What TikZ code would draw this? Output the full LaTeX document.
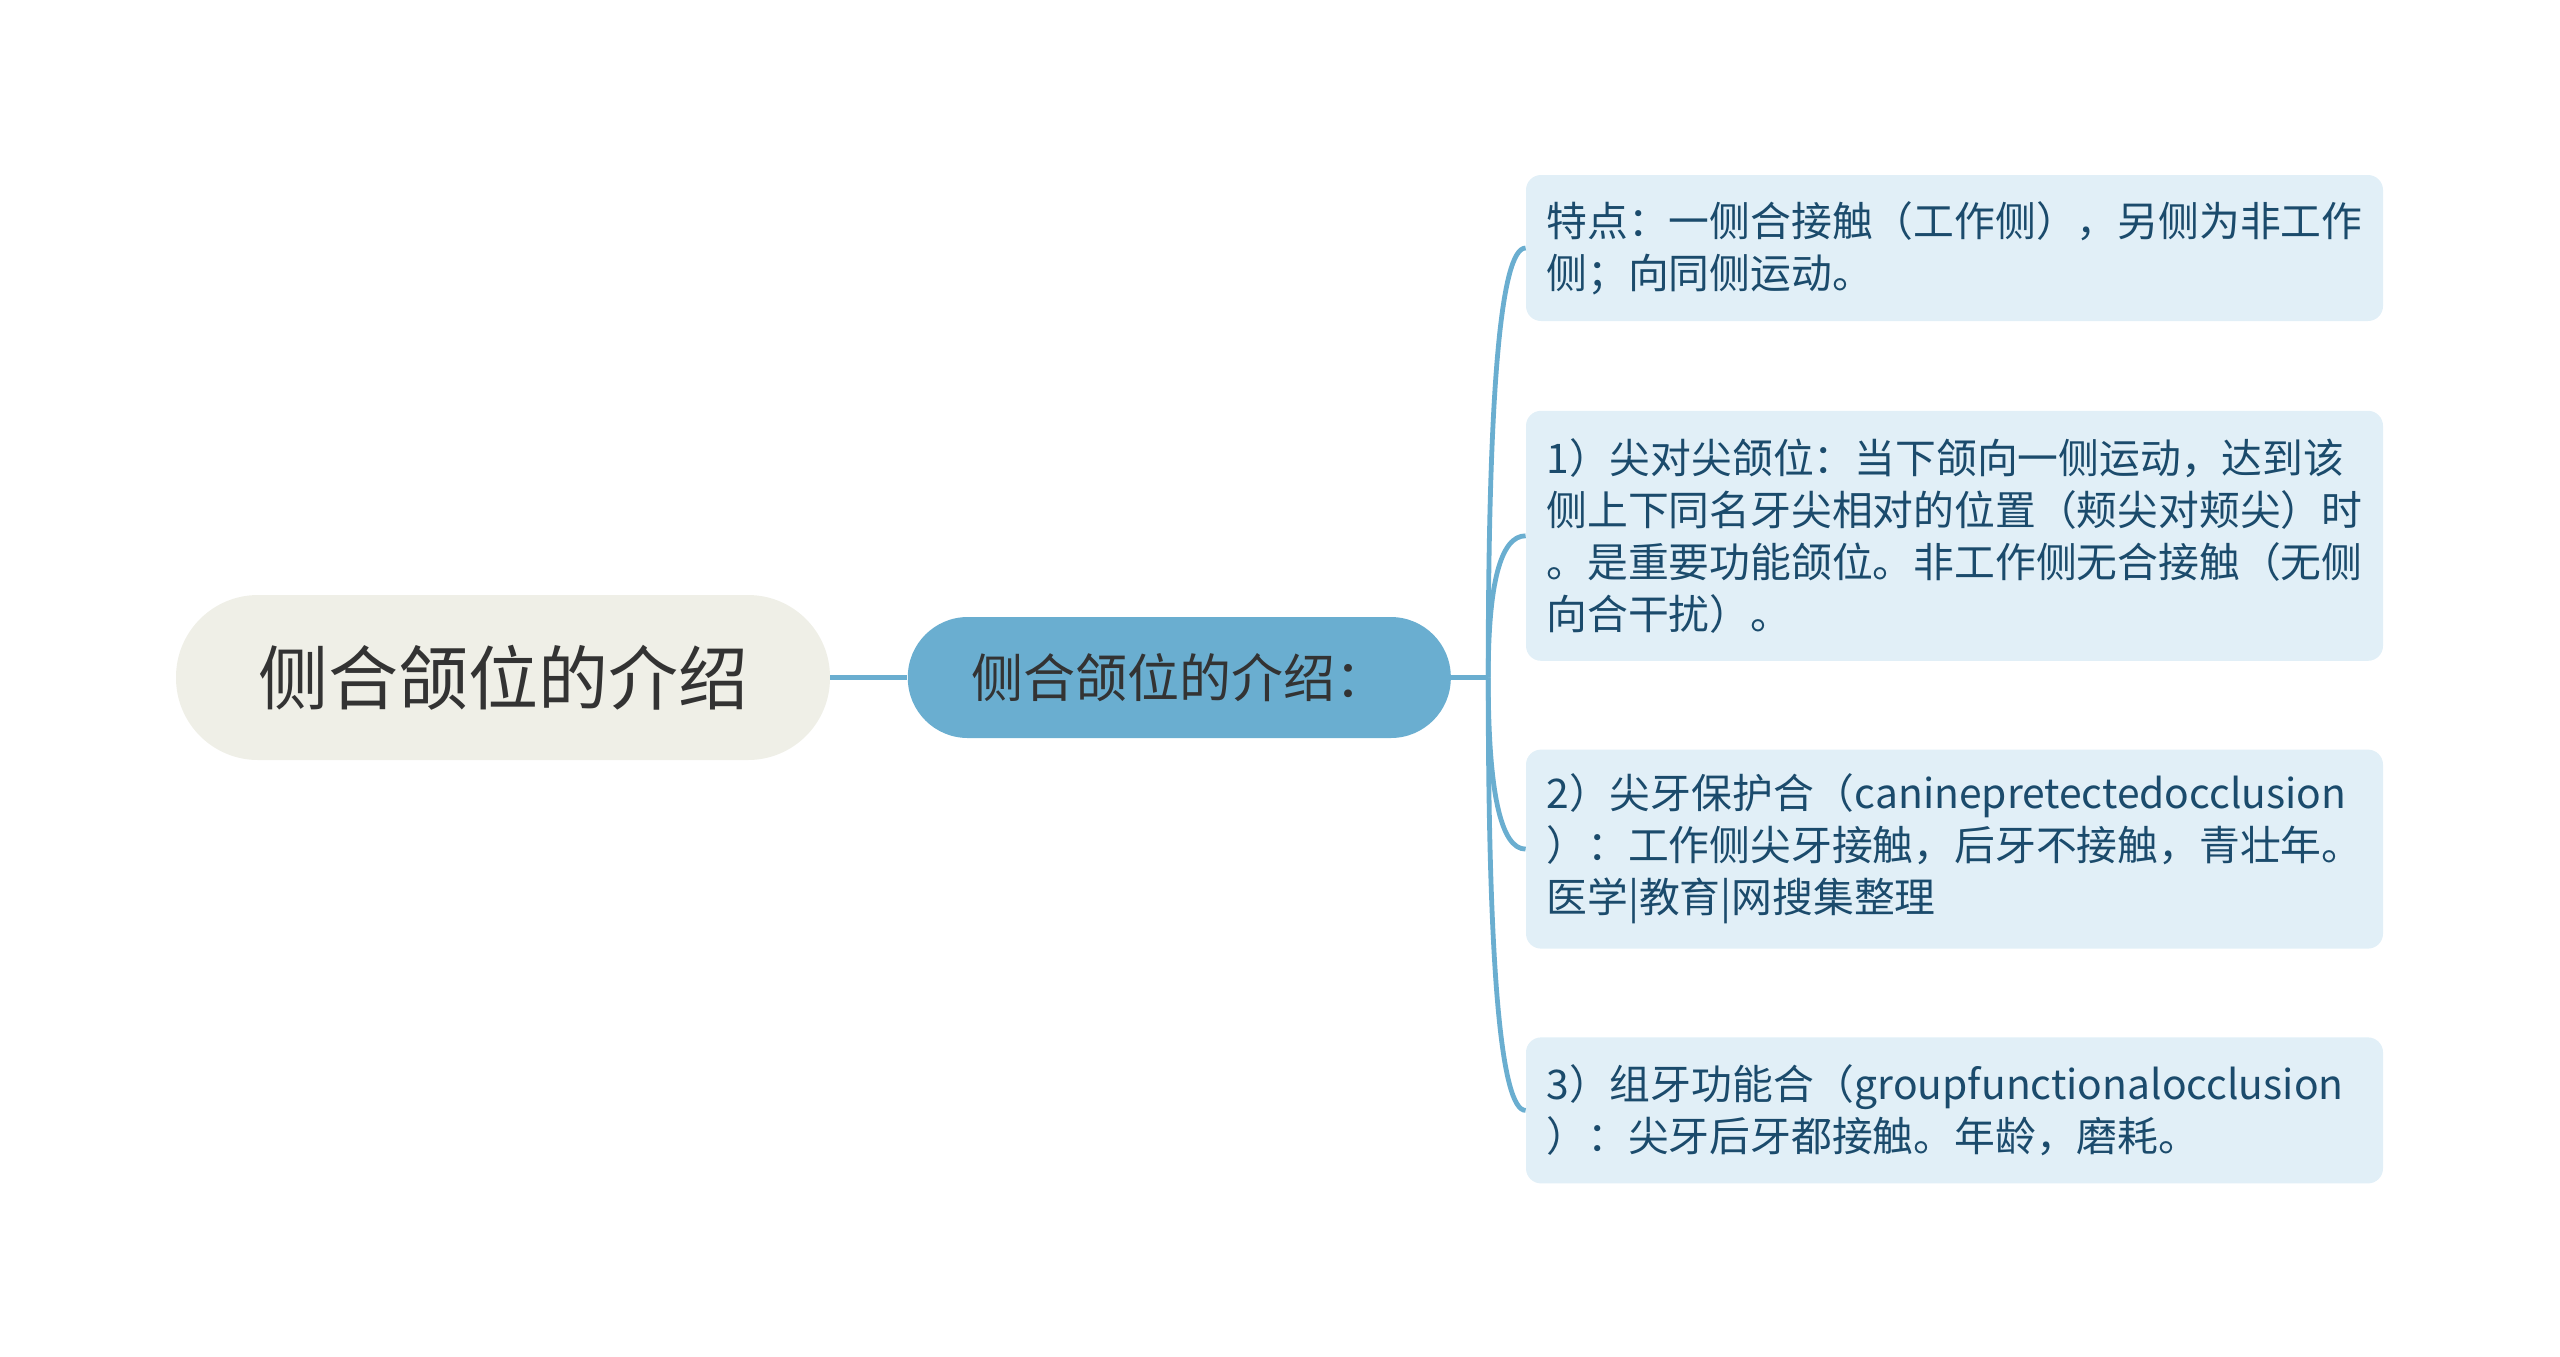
\documentclass[tikz,border=0pt]{standalone}
\usepackage{fontspec}
\setmainfont{Noto Sans CJK SC}
\usetikzlibrary{calc, positioning}
\definecolor{rootfill}{HTML}{EFEFE7}
\definecolor{mainblue}{HTML}{6AAED0}
\definecolor{leaffill}{HTML}{E1EFF7}
\definecolor{leaftext}{HTML}{1B4B6C}
\definecolor{darktext}{HTML}{333333}

\begin{document}
\begin{tikzpicture}[x=0.5pt, y=-0.5pt]
    \tikzset{
        root/.style = {rectangle, rounded corners=41pt, fill=rootfill, text=darktext,
                       minimum width=327pt, minimum height=82.5pt, inner sep=0pt,
                       font=\fontsize{35pt}{42pt}\selectfont},
        topic/.style = {rectangle, rounded corners=30pt, fill=mainblue, text=darktext,
                        minimum width=271.5pt, minimum height=60.5pt, inner sep=0pt,
                        font=\fontsize{26pt}{31pt}\selectfont},
        leaf/.style = {rectangle, rounded corners=7.5pt, fill=leaffill, text=leaftext,
                       text width=408pt, align=left, inner xsep=10.25pt, inner ysep=0pt,
                       font=\fontsize{20.4pt}{26pt}\selectfont},
        link/.style = {draw=mainblue, line width=2.4pt}
    }
    \useasboundingbox (0,0) rectangle (2560,1356);

    % 中心主题
    \node [root] (root) at (503,677.5) {侧合颌位的介绍};
    \node [topic, right=38.5pt of root] (topic) {侧合颌位的介绍：};
    \coordinate [right=18.5pt of topic] (fork);

    % 子主题
    \node [leaf, minimum height=73pt] (c1) at (1954.5,248)
        {特点：一侧合接触（工作侧），另侧为非工作\\侧；向同侧运动。};
    \node [leaf, minimum height=125pt, below=44.5pt of c1] (c2)
        {1）尖对尖颌位：当下颌向一侧运动，达到该\\侧上下同名牙尖相对的位置（颊尖对颊尖）时\\。是重要功能颌位。非工作侧无合接触（无侧\\向合干扰）。};
    \node [leaf, minimum height=99.5pt, below=44pt of c2] (c3)
        {2）尖牙保护合（caninepretectedocclusion\\）：工作侧尖牙接触，后牙不接触，青壮年。\\医学|教育|网搜集整理};
    \node [leaf, minimum height=73pt, below=44pt of c3] (c4)
        {3）组牙功能合（groupfunctionalocclusion\\）：尖牙后牙都接触。年龄，磨耗。};

    % 连线
    \draw [link] (root) -- (topic);
    \draw [link] (topic) -- (fork);
    \foreach \leafname in {c1,c2,c3,c4}
        \draw [link] (fork) .. controls ($(fork)!2/3!(fork |- \leafname.west)$)
            and ($(\leafname.west)!2/3!(fork |- \leafname.west)$) .. (\leafname.west);
\end{tikzpicture}
\end{document}
